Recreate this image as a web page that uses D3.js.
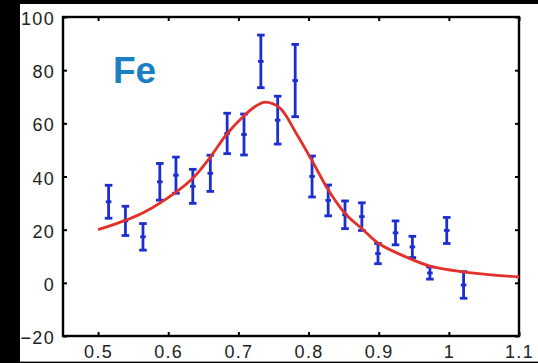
<!DOCTYPE html>
<html>
<head>
<meta charset="utf-8">
<script src="https://cdn.jsdelivr.net/npm/d3@7"></script>
<style>
  html, body { margin: 0; padding: 0; background: #000; }
  svg { display: block; }
</style>
</head>
<body>
<svg id="chart" width="538" height="363"></svg>
<script>
// Measured Fe points (energy, signal, one-sigma error)
const energy = [0.515, 0.539, 0.564, 0.588, 0.611, 0.635, 0.660, 0.684, 0.708, 0.732, 0.756,
                0.781, 0.805, 0.828, 0.852, 0.876, 0.899, 0.924, 0.948, 0.973, 0.997, 1.021];
const signal = [30.5, 23.3, 17.3, 38.0, 40.5, 36.3, 41.2, 56.2, 55.8, 83.3, 61.2,
                76.1, 40.0, 31.0, 25.6, 24.9, 11.0, 18.8, 13.5, 3.7, 19.7, -0.8];
const sigma  = [6.2, 5.5, 5.0, 6.9, 6.8, 6.4, 6.8, 7.6, 7.7, 9.9, 9.0,
                13.6, 7.7, 5.8, 5.2, 5.2, 3.8, 4.5, 4.0, 2.3, 4.9, 5.0];

// Fitted curve, sampled along its length
const fitX = [0.500, 0.540, 0.567, 0.610, 0.636, 0.660, 0.683, 0.707, 0.725, 0.738, 0.759,
              0.783, 0.807, 0.828, 0.852, 0.876, 0.900, 0.940, 0.973, 1.021, 1.060, 1.100];
const fitY = [20.0, 23.6, 26.7, 33.9, 39.6, 47.3, 55.8, 62.6, 66.5, 68.0, 65.8,
              56.0, 45.0, 35.0, 26.1, 20.4, 14.8, 9.6, 6.3, 4.1, 3.0, 2.2];

const xTicks = [0.5, 0.6, 0.7, 0.8, 0.9, 1, 1.1];
const yTicks = [-20, 0, 20, 40, 60, 80, 100];
const elementLabel = "Fe";

const svg = d3.select("#chart");

// white figure panel
svg.append("rect").attr("x", 20).attr("y", 4).attr("width", 518).attr("height", 357).attr("fill", "#fff");
svg.append("line").attr("x1", 20).attr("x2", 538).attr("y1", 361.5).attr("y2", 361.5)
  .attr("stroke", "#9a9a9a").attr("stroke-width", 1);

const x = d3.scaleLinear().domain([0.45, 1.1]).range([63, 519]);
const y = d3.scaleLinear().domain([-20, 100]).range([336, 17]);

const tickFont = "'Liberation Sans', Arial, sans-serif";

// axes with inward ticks on all four sides
const axB = d3.axisBottom(x).tickValues(xTicks).tickSize(-4).tickPadding(12).tickFormat(d3.format("~g"));
const axT = d3.axisTop(x).tickValues(xTicks).tickSize(-4).tickFormat("");
const axL = d3.axisLeft(y).tickValues(yTicks).tickSize(-4).tickPadding(8).tickFormat(d3.format("d"));
const axR = d3.axisRight(y).tickValues(yTicks).tickSize(-4).tickFormat("");

function style(g) {
  g.select(".domain").remove();
  g.selectAll(".tick line").attr("stroke", "#000").attr("stroke-width", 2);
  g.selectAll(".tick text").attr("fill", "#222").style("font-family", tickFont)
    .style("font-size", "18px").style("letter-spacing", "1.3px");
}

svg.append("g").attr("transform", `translate(0,${y(-20)})`).call(axB).call(style)
  .selectAll(".tick text").attr("dy", "0.71em").attr("y", 9);
svg.append("g").attr("transform", `translate(0,${y(100)})`).call(axT).call(style);
svg.append("g").attr("transform", `translate(${x(0.45)},0)`).call(axL).call(style)
  .selectAll(".tick text").attr("dy", "0.42em");
svg.append("g").attr("transform", `translate(${x(1.1)},0)`).call(axR).call(style);

// plot box
svg.append("rect")
  .attr("x", x(0.45)).attr("y", y(100))
  .attr("width", x(1.1) - x(0.45)).attr("height", y(-20) - y(100))
  .attr("fill", "none").attr("stroke", "#000").attr("stroke-width", 2.4);

// element label
svg.append("text").attr("x", 113).attr("y", 83)
  .attr("fill", "#1b80c2").style("font-family", tickFont)
  .style("font-weight", "bold").style("font-size", "37px").text(elementLabel);

// error bars
const pts = energy.map((e, i) => ({ e, s: signal[i], d: sigma[i] }));
const eb = svg.append("g").attr("stroke", "#1d2ed0").attr("stroke-width", 2.8).attr("fill", "none");
const cap = 3.8;
pts.forEach(p => {
  const cx = x(p.e);
  eb.append("line").attr("x1", cx).attr("x2", cx).attr("y1", y(p.s + p.d)).attr("y2", y(p.s - p.d));
  eb.append("line").attr("x1", cx - cap).attr("x2", cx + cap).attr("y1", y(p.s + p.d)).attr("y2", y(p.s + p.d));
  eb.append("line").attr("x1", cx - cap).attr("x2", cx + cap).attr("y1", y(p.s - p.d)).attr("y2", y(p.s - p.d));
  eb.append("line").attr("x1", cx - 2.8).attr("x2", cx + 2.8).attr("y1", y(p.s)).attr("y2", y(p.s));
});

// fit curve
const line = d3.line().x(d => x(d[0])).y(d => y(d[1])).curve(d3.curveCatmullRom.alpha(0.5));
svg.append("path").datum(fitX.map((v, i) => [v, fitY[i]]))
  .attr("d", line).attr("fill", "none").attr("stroke", "#e4302a").attr("stroke-width", 2.8);
</script>
</body>
</html>
